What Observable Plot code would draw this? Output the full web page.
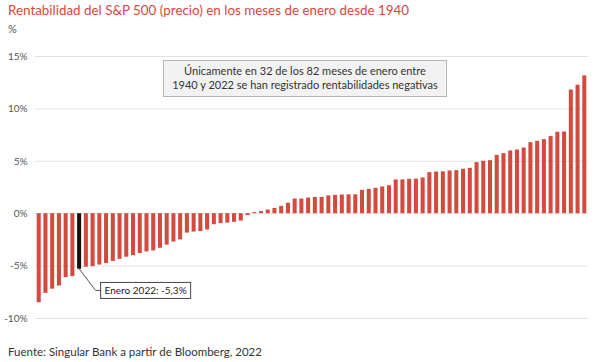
<!DOCTYPE html>
<html>
<head>
<meta charset="utf-8">
<script src="https://cdn.jsdelivr.net/npm/d3@7"></script>
<script src="https://cdn.jsdelivr.net/npm/@observablehq/plot@0.6"></script>
<style>
  body { margin: 0; background: #fff; font-family: Lato, "Open Sans", sans-serif; }
  #wrap { position: relative; width: 600px; height: 362px; overflow: hidden; }
  #title { height: 21px; line-height: 21px; padding-left: 8px; font-size: 13.4px; color: #d9473b; white-space: nowrap; }
  #unit { height: 15px; line-height: 15px; padding-left: 8px; font-size: 11px; color: #555; }
  #chart svg { display: block; }
  #caption { padding-top: 8px; padding-left: 8px; font-size: 11.5px; line-height: 16px; color: #333; }
  #note { position: absolute; left: 163px; top: 60px; width: 284px; height: 37px; box-sizing: border-box;
          background: #f2f2f2; border: 1px solid #b5b5b5; font-size: 11px; line-height: 14px; color: #333;
          text-align: center; padding-top: 3px; }
</style>
</head>
<body>
<div id="wrap">
  <div id="title">Rentabilidad del S&amp;P 500 (precio) en los meses de enero desde 1940</div>
  <div id="unit">%</div>
  <div id="chart"></div>
  <div id="caption">Fuente: Singular Bank a partir de Bloomberg, 2022</div>
  <div id="note">Únicamente en 32 de los 82 meses de enero entre<br>1940 y 2022 se han registrado rentabilidades negativas</div>
</div>
<script>
// January returns of the S&P 500 (price), sorted ascending, in %
const values = [
  -8.5, -7.6, -7.2, -6.9, -6.1, -6.0, -5.3, -5.1, -5.05, -4.9,
  -4.75, -4.55, -4.35, -4.15, -4.0, -3.8, -3.65, -3.55, -3.3, -3.0,
  -2.7, -2.5, -1.85, -1.75, -1.7, -1.55, -1.05, -0.95, -0.9, -0.82,
  -0.7, -0.18,
  0.1, 0.2, 0.35, 0.5, 0.7, 1.0, 1.4, 1.4, 1.5, 1.55,
  1.55, 1.7, 1.75, 1.78, 1.8, 1.8, 2.23, 2.32, 2.42, 2.55,
  2.67, 3.22, 3.22, 3.28, 3.3, 3.41, 3.92, 3.98, 4.0, 4.08,
  4.11, 4.24, 4.33, 4.87, 5.0, 5.06, 5.57, 5.73, 5.99, 6.08,
  6.27, 6.78, 6.91, 7.07, 7.36, 7.77, 7.8, 11.8, 12.26, 13.15
];
const ranks = values.map((v, i) => i + 1);
const highlightRank = 7;
const highlightLabel = "Enero 2022: -5,3%";
const yTicks = [-10, -5, 0, 5, 10, 15];

const data = values.map((v, i) => ({ rank: ranks[i], v }));
const hl = [{ rank: highlightRank, v: values[highlightRank - 1], label: highlightLabel }];

const RED = "#d24b3e";
const fmt = d => d + "%";

const plot = Plot.plot({
  width: 600, height: 300,
  marginTop: 20, marginBottom: 18, marginLeft: 35, marginRight: 12,
  x: { type: "band", domain: ranks, paddingInner: 0.4, paddingOuter: 0.25, axis: null },
  y: { domain: [-10, 15], ticks: yTicks, tickFormat: fmt, label: null },
  style: { fontFamily: "Lato, sans-serif", fontSize: "10px", color: "#555", background: "transparent", overflow: "visible" },
  marks: [
    Plot.gridY(yTicks, { stroke: "#e2e2e2", strokeOpacity: 1, strokeWidth: 1 }),
    Plot.axisY(yTicks, { tickSize: 0, tickPadding: 8, tickFormat: fmt, fill: "#555", label: null }),
    Plot.barY(data.filter(d => d.rank !== highlightRank), { x: "rank", y: "v", fill: RED }),
    Plot.barY(hl, { x: "rank", y: "v", fill: "#111" }),
    Plot.text(hl, { x: "rank", y: "v", text: "label", dx: 25, dy: 22, textAnchor: "start",
                    fontSize: 10, fill: "#222", className: "hl-label" })
  ]
});
document.getElementById("chart").appendChild(plot);

// box + connector for the highlight label (positions derived from the scales / rendered text)
const xs = plot.scale("x"), ys = plot.scale("y");
const svg = d3.select(plot);
const txt = svg.select("g.hl-label text");
if (!txt.empty()) {
  const node = txt.node();
  const bb = node.getBBox();
  const m = node.getCTM();
  const padX = 4, padY = 2;
  const bx = bb.x + m.e - padX, by = bb.y + m.f - padY;
  const bw = bb.width + 2 * padX, bh = bb.height + 2 * padY;
  const g = svg.insert("g", "g.hl-label");
  const x0 = xs.apply(highlightRank) + xs.bandwidth / 2;
  const y0 = ys.apply(values[highlightRank - 1]);
  const my = by + bh / 2;
  g.append("polyline")
    .attr("points", `${x0},${y0} ${bx - 5},${my} ${bx},${my}`)
    .attr("fill", "none").attr("stroke", "#555").attr("stroke-width", 1);
  g.append("rect").attr("x", bx).attr("y", by).attr("width", bw).attr("height", bh)
    .attr("fill", "#fff").attr("stroke", "#444").attr("stroke-width", 1);
}
</script>
</body>
</html>
